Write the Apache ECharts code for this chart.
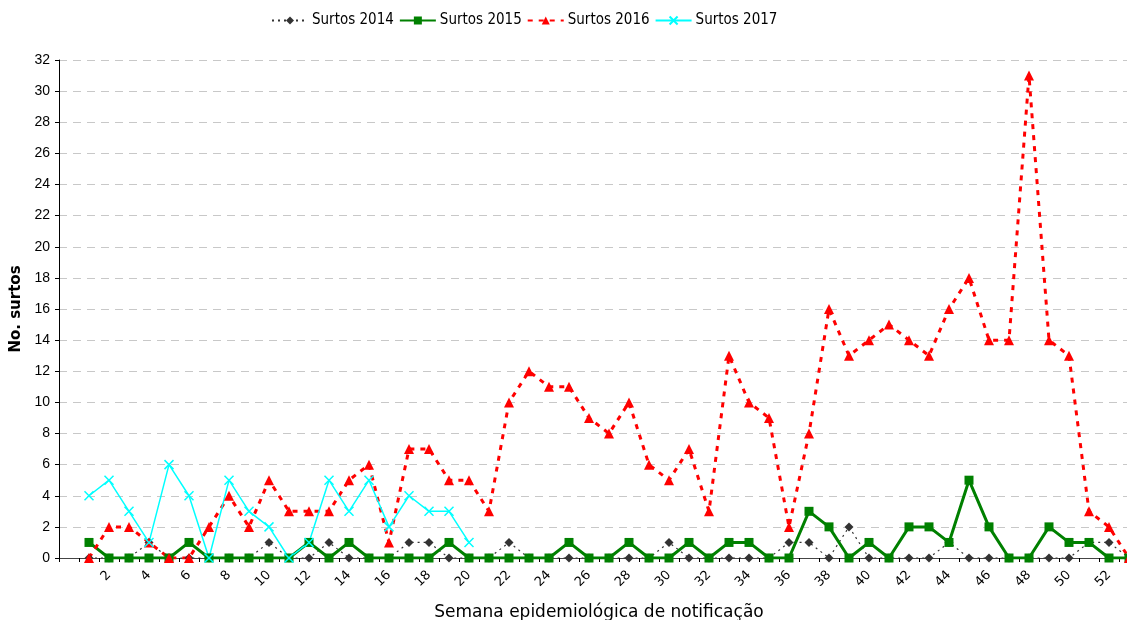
<!DOCTYPE html>
<html>
<head>
<meta charset="utf-8">
<script src="https://cdn.jsdelivr.net/npm/echarts@6/dist/echarts.min.js"></script>
<style>
  html, body { margin: 0; padding: 0; background: #fff; overflow: hidden; }
  #chart { width: 1127px; height: 620px; }
</style>
</head>
<body>
<div id="chart"></div>
<script>
// semanas epidemiológicas (primeira categoria vazia, como no original)
const semanas = ['', '1', '2', '3', '4', '5', '6', '7', '8', '9', '10', '11', '12', '13', '14', '15', '16', '17', '18',
  '19', '20', '21', '22', '23', '24', '25', '26', '27', '28', '29', '30', '31', '32', '33', '34', '35', '36',
  '37', '38', '39', '40', '41', '42', '43', '44', '45', '46', '47', '48', '49', '50', '51', '52', '53']

const surtos2014 = [null, 0, 0, 0, 1, 0, 0, 0, 0, 0, 1, 0, 0, 1, 0, 0, 0, 1, 1, 0, 0, 0, 1, 0, 0, 0, 0, 0, 0,
  0, 1, 0, 0, 0, 0, 0, 1, 1, 0, 2, 0, 0, 0, 0, 1, 0, 0, 0, 0, 0, 0, 1, 1, 0]
const surtos2015 = [null, 1, 0, 0, 0, 0, 1, 0, 0, 0, 0, 0, 1, 0, 1, 0, 0, 0, 0, 1, 0, 0, 0, 0, 0, 1, 0, 0, 1,
  0, 0, 1, 0, 1, 1, 0, 0, 3, 2, 0, 1, 0, 2, 2, 1, 5, 2, 0, 0, 2, 1, 1, 0, 0]
const surtos2016 = [null, 0, 2, 2, 1, 0, 0, 2, 4, 2, 5, 3, 3, 3, 5, 6, 1, 7, 7, 5, 5, 3, 10, 12, 11, 11, 9, 8, 10,
  6, 5, 7, 3, 13, 10, 9, 2, 8, 16, 13, 14, 15, 14, 13, 16, 18, 14, 14, 31, 14, 13, 3, 2, 0]
const surtos2017 = [null, 4, 5, 3, 1, 6, 4, 0, 5, 3, 2, 0, 1, 5, 3, 5, 2, 4, 3, 3, 1]

const fonte = 'DejaVu Sans, Verdana, sans-serif'
const chart = echarts.init(document.getElementById('chart'))

chart.setOption({
  animation: false,
  legend: {
    top: 8,
    left: 266,
    itemWidth: 36,
    itemHeight: 10,
    itemGap: 5,
    textStyle: { fontFamily: 'DejaVu Sans Condensed, DejaVu Sans, sans-serif', fontSize: 15, color: '#000', padding: [0, 0, 0, -1] },
    data: ['Surtos 2014', 'Surtos 2015', 'Surtos 2016', 'Surtos 2017']
  },
  grid: {
    left: 59,
    top: 60,
    width: 1080,
    height: 498,
    outerBoundsMode: 'none',
    containLabel: false
  },
  xAxis: {
    type: 'category',
    data: semanas,
    boundaryGap: true,
    name: 'Semana epidemiológica de notificação',
    nameLocation: 'middle',
    nameGap: 46,
    nameTextStyle: { fontFamily: fonte, fontSize: 17, color: '#000' },
    axisLine: { lineStyle: { color: '#444', width: 1 } },
    axisTick: { show: true, interval: 0, length: 4, lineStyle: { color: '#000' } },
    axisLabel: {
      interval: 1,
      rotate: 45,
      margin: 15,
      fontFamily: fonte,
      fontSize: 13,
      color: '#000'
    },
    splitLine: { show: false }
  },
  yAxis: {
    type: 'value',
    min: 0,
    max: 32,
    interval: 2,
    name: 'No. surtos',
    nameLocation: 'middle',
    nameGap: 34,
    nameTextStyle: { fontFamily: fonte, fontSize: 15, fontWeight: 'bold', color: '#000' },
    axisLine: { show: true, lineStyle: { color: '#000', width: 1 } },
    axisTick: { show: true, length: 4, lineStyle: { color: '#000' } },
    axisLabel: { fontFamily: 'Liberation Sans, Arial, sans-serif', fontSize: 14, color: '#000', margin: 9 },
    splitLine: { show: true, lineStyle: { color: '#c8c8c8', type: [8, 6], width: 1 } }
  },
  series: [
    {
      name: 'Surtos 2014',
      type: 'line',
      data: surtos2014,
      symbol: 'diamond',
      symbolSize: 9,
      itemStyle: { color: '#333333' },
      lineStyle: { color: '#333333', width: 1.2, type: [2, 4] }
    },
    {
      name: 'Surtos 2015',
      type: 'line',
      data: surtos2015,
      symbol: 'rect',
      symbolSize: 9,
      itemStyle: { color: '#008000' },
      lineStyle: { color: '#008000', width: 3 }
    },
    {
      name: 'Surtos 2016',
      type: 'line',
      data: surtos2016,
      symbol: 'triangle',
      symbolSize: 10,
      itemStyle: { color: '#ff0000' },
      lineStyle: { color: '#ff0000', width: 3, type: [5, 6] }
    },
    {
      name: 'Surtos 2017',
      type: 'line',
      data: surtos2017,
      symbol: 'path://M0,0L10,10M10,0L0,10',
      symbolSize: 9,
      itemStyle: { color: '#00ffff', borderColor: '#00ffff', borderWidth: 1.5 },
      lineStyle: { color: '#00ffff', width: 1.5 }
    }
  ]
})
</script>
</body>
</html>
